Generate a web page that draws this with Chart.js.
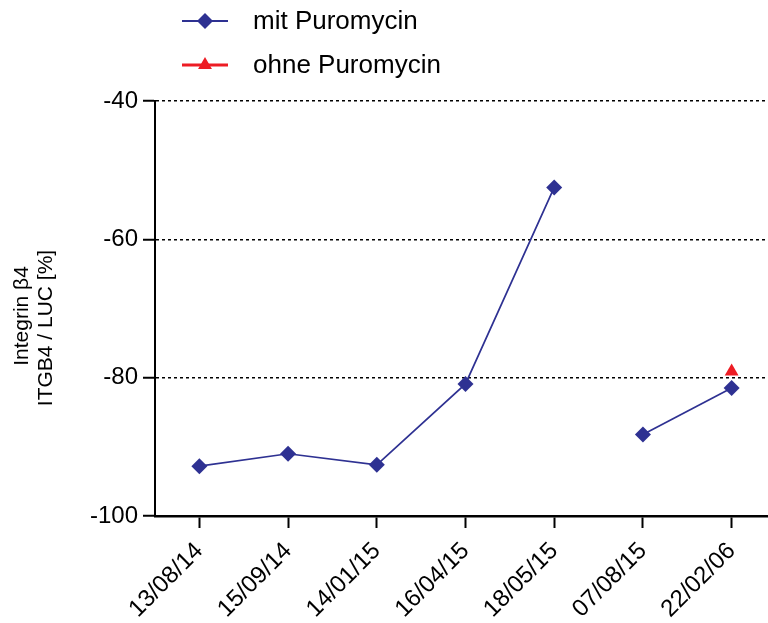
<!DOCTYPE html>
<html>
<head>
<meta charset="utf-8">
<script src="https://cdn.jsdelivr.net/npm/chart.js@4/dist/chart.umd.min.js"></script>
<style>
    html, body { margin: 0; padding: 0; background: #fff; overflow: hidden; }
    /* plot runs slightly past the right edge, as in the original */
    #wrap { width: 784px; height: 623px; }
    canvas { display: block; }
</style>
</head>
<body>
<div id="wrap"><canvas id="chart"></canvas></div>
<script>
const dates = ['13/08/14', '15/09/14', '14/01/15', '16/04/15', '18/05/15', '07/08/15', '22/02/06'];
const mitPuromycin = [-92.8, -91.0, -92.6, -80.9, -52.5, -88.2, -81.5];
const ohnePuromycin = [null, null, null, null, null, null, -79.1];
// no connecting line after these dates
const breakAfter = ['18/05/15'];
const yTicks = [-40, -60, -80, -100];
const yTitle = ['Integrin β4', 'ITGB4 / LUC [%]'];

const BLUE = '#2e3192';
const RED = '#ed1c24';
const FONT = '"Liberation Sans", Arial, sans-serif';

// legend drawn by hand: line with marker in the middle, like the original
const lineLegend = {
    id: 'lineLegend',
    afterDraw(chart) {
        const ctx = chart.ctx;
        const items = [
            { text: 'mit Puromycin', color: BLUE, style: 'rectRot', y: 21, width: 2 },
            { text: 'ohne Puromycin', color: RED, style: 'triangle', y: 65, width: 3 }
        ];
        ctx.save();
        items.forEach(it => {
            ctx.strokeStyle = it.color;
            ctx.lineWidth = it.width;
            ctx.beginPath();
            ctx.moveTo(182, it.y);
            ctx.lineTo(228, it.y);
            ctx.stroke();
            ctx.fillStyle = it.color;
            Chart.helpers.drawPoint(ctx, { pointStyle: it.style, radius: 8, borderWidth: 0 }, 205, it.y);
            ctx.fillStyle = '#000';
            ctx.font = '26px ' + FONT;
            ctx.textBaseline = 'middle';
            ctx.textAlign = 'left';
            ctx.fillText(it.text, 253, it.y + 1);
        });

        // y axis title, two rotated lines
        ctx.font = '21px ' + FONT;
        ctx.textAlign = 'center';
        ctx.textBaseline = 'middle';
        const pos = [[22, 316], [46, 328]];
        yTitle.forEach((t, i) => {
            ctx.save();
            ctx.translate(pos[i][0], pos[i][1]);
            ctx.rotate(-Math.PI / 2);
            ctx.fillText(t, 0, 0);
            ctx.restore();
        });
        ctx.restore();
    }
};

new Chart(document.getElementById('chart'), {
    type: 'line',
    data: {
        labels: dates,
        datasets: [
            {
                label: 'mit Puromycin',
                data: mitPuromycin,
                borderColor: BLUE,
                backgroundColor: BLUE,
                borderWidth: 1.7,
                pointStyle: 'rectRot',
                pointRadius: 8,
                pointHoverRadius: 8,
                pointBorderWidth: 0,
                segment: {
                    borderColor: c => breakAfter.includes(dates[c.p0DataIndex]) ? 'transparent' : BLUE
                }
            },
            {
                label: 'ohne Puromycin',
                data: ohnePuromycin,
                borderColor: RED,
                backgroundColor: RED,
                borderWidth: 1.5,
                pointStyle: 'triangle',
                pointRadius: 8,
                pointHoverRadius: 8,
                pointBorderWidth: 0
            }
        ]
    },
    options: {
        responsive: true,
        maintainAspectRatio: false,
        animation: false,
        layout: { padding: { top: 101, right: 0, left: 0, bottom: 0 } },
        plugins: {
            legend: { display: false },
            tooltip: { enabled: false }
        },
        scales: {
            x: {
                offset: true,
                grid: {
                    offset: false,
                    drawOnChartArea: false,
                    tickLength: 12,
                    tickColor: '#000',
                    tickWidth: 2
                },
                border: { color: '#000', width: 2.5 },
                ticks: {
                    color: '#000',
                    font: { family: FONT, size: 24 },
                    minRotation: 45,
                    maxRotation: 45,
                    padding: 9
                },
                afterFit: s => { s.height = 107; s.paddingLeft = 0; s.paddingRight = 0; }
            },
            y: {
                min: -100,
                max: -40,
                afterBuildTicks: s => { s.ticks = yTicks.map(v => ({ value: v })); },
                grid: {
                    color: c => c.tick && c.tick.value > -100 ? '#000' : 'transparent',
                    lineWidth: 1.5,
                    tickColor: '#000',
                    tickWidth: 2,
                    tickLength: 12,
                    tickBorderDash: []
                },
                border: { color: '#000', width: 2, dash: [3, 3] },
                ticks: {
                    color: '#000',
                    font: { family: FONT, size: 24 },
                    padding: 5
                },
                afterFit: s => { s.width = 155; s.paddingTop = 0; s.paddingBottom = 0; }
            }
        }
    },
    plugins: [lineLegend]
});
</script>
</body>
</html>
